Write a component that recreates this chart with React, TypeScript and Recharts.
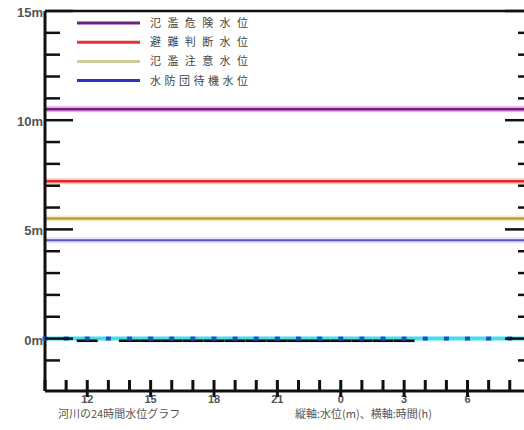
import { Bar, ComposedChart, Line, ReferenceLine, XAxis, YAxis } from 'recharts';

// clock hour at each x position (24 hours starting at 10:00)
const clockHours = [10, 11, 12, 13, 14, 15, 16, 17, 18, 19, 20, 21, 22, 23, 0, 1, 2, 3, 4, 5, 6, 7, 8, 9];
const waterLevel = [0, 0, 0, 0, 0, 0, 0, 0, 0, 0, 0, 0, 0, 0, 0, 0, 0, 0, 0, 0, 0, 0, 0, 0];
const observedLevel: (number | null)[] = [
  null, null, -0.1, null, -0.1, -0.1, -0.1, -0.1, -0.1, -0.1, -0.1, -0.1,
  -0.1, -0.1, -0.1, -0.1, -0.1, -0.1, null, null, null, null, null, null,
];

const levelNames = ['氾濫危険水位', '避難判断水位', '氾濫注意水位', '水防団待機水位'];
const levelValues = [10.5, 7.2, 5.5, 4.5];
const levelColors = ['#6e1f82', '#e32626', '#b9a23e', '#5a56c6'];
const haloColors = ['#f2a6e6', '#f9c4c4', '#f3ecc4', '#e2e0f6'];
const legendColors = ['#6e1f82', '#e83030', '#cfcd9c', '#2f2fc2'];

// last hour sits outside the visible window
const xTicks = clockHours.slice(0, 23).map((_, i) => i);
const yTicks = [-1, 0, 1, 2, 3, 4, 5, 6, 7, 8, 9, 10, 11, 12, 13, 14, 15];
const Y_MIN = -2.4;
const Y_MAX = 15;
const X_MAX = 23.1;

// chart layout
const CHART_W = 540;
const CHART_H = 430;
const TOP = 11;
const LEFT_AXIS_W = 45;
const RIGHT_AXIS_W = 7;
const X_AXIS_H = 39;
const PLOT_W = CHART_W - LEFT_AXIS_W - RIGHT_AXIS_W;
const AXIS_Y = CHART_H - X_AXIS_H;

const data = clockHours.map((hour, i) => ({
  t: i,
  hour,
  level: waterLevel[i],
  obs: observedLevel[i],
}));

const numFont = '"Liberation Sans", Arial, sans-serif';
const jpFont = '"Noto Sans CJK JP", sans-serif';

function HourTick(props: any) {
  const hour = clockHours[props.payload.value];
  if (hour % 3 !== 0) return <g />;
  return (
    <text x={props.x} y={Number(props.y) + 12} textAnchor="middle" fontSize={11} fontWeight="bold" fill="#555" fontFamily={numFont}>
      {hour}
    </text>
  );
}

function LeftTick({ x, y, payload }: any) {
  const v = payload.value;
  const major = v % 5 === 0;
  return (
    <g>
      <line x1={x} x2={x + (major ? 28 : 15)} y1={y} y2={y} stroke="#111" strokeWidth={2.5} />
      {major && v >= 0 && (
        <text x={x - 2} y={y + 6} textAnchor="end" fontSize={13} fontWeight="bold" fill="#555" fontFamily={numFont}>
          {`${v}m`}
        </text>
      )}
    </g>
  );
}

function RightTick({ x, y, payload }: any) {
  const major = payload.value % 5 === 0;
  return <line x1={x} x2={x - (major ? 28 : 15)} y1={y} y2={y} stroke="#111" strokeWidth={2.5} />;
}

function SquareDot({ cx, cy }: any) {
  if (cx == null || cy == null) return null;
  return <rect x={cx - 2.5} y={cy - 2} width={5} height={4} fill="#2350c0" />;
}

// hour tick marks of the time axis, laid over the chart
function HourMarks() {
  return (
    <svg width={524} height={430} style={{ position: 'absolute', left: 0, top: 0, pointerEvents: 'none' }}>
      {xTicks.map((t) => {
        const x = LEFT_AXIS_W + (t / X_MAX) * PLOT_W;
        const major = clockHours[t] % 3 === 0;
        return <rect key={t} x={x - 1.5} y={AXIS_Y - 11} width={3} height={major ? 17 : 11} fill="#111" />;
      })}
    </svg>
  );
}

function LevelLegend() {
  return (
    <svg width={300} height={100} style={{ position: 'absolute', left: 0, top: 0, pointerEvents: 'none' }}>
      {levelNames.map((name, i) => {
        const y = 23 + i * 19.2;
        return (
          <g key={name}>
            <line x1={77} x2={140} y1={y} y2={y} stroke={legendColors[i]} strokeWidth={3} />
            <text
              x={150}
              y={y + 4}
              fontSize={11}
              fill="#444"
              fontFamily={jpFont}
              textLength={98}
              lengthAdjust="spacing"
            >
              {name}
            </text>
          </g>
        );
      })}
    </svg>
  );
}

export default function App() {
  return (
    <div style={{ position: 'relative', width: 524, height: 430, overflow: 'hidden', background: '#fff' }}>
      <style>{'body{margin:0;overflow:hidden}'}</style>
      <ComposedChart width={CHART_W} height={CHART_H} data={data} margin={{ top: TOP, right: 0, bottom: 0, left: 0 }}>
        <XAxis
          dataKey="t"
          type="number"
          domain={[0, X_MAX]}
          ticks={xTicks}
          interval={0}
          height={X_AXIS_H}
          tickSize={0}
          tickMargin={0}
          tickLine={false}
          axisLine={{ stroke: '#111', strokeWidth: 3 }}
          tick={<HourTick />}
        />
        <YAxis
          type="number"
          domain={[Y_MIN, Y_MAX]}
          ticks={yTicks}
          interval={0}
          allowDataOverflow
          width={LEFT_AXIS_W}
          tickSize={0}
          tickMargin={0}
          tickLine={false}
          axisLine={{ stroke: '#111', strokeWidth: 3 }}
          tick={<LeftTick />}
        />
        <YAxis
          yAxisId="right"
          orientation="right"
          type="number"
          domain={[Y_MIN, Y_MAX]}
          ticks={yTicks}
          interval={0}
          allowDataOverflow
          width={RIGHT_AXIS_W}
          tickSize={0}
          tickMargin={0}
          tickLine={false}
          axisLine={false}
          tick={<RightTick />}
        />
        <ReferenceLine y={Y_MAX} stroke="#111" strokeWidth={2.5} />
        {levelValues.map((v, i) => (
          <ReferenceLine key={`halo-${i}`} y={v} stroke={haloColors[i]} strokeWidth={6} />
        ))}
        {levelValues.map((v, i) => (
          <ReferenceLine key={`lvl-${i}`} y={v} stroke={levelColors[i]} strokeWidth={i === 3 ? 2 : 2.5} />
        ))}
        <Line
          dataKey="level"
          stroke="#48dcef"
          strokeWidth={4}
          dot={<SquareDot />}
          activeDot={false}
          isAnimationActive={false}
        />
        <Bar
          dataKey={(d: any) => (d.obs == null ? null : [d.obs - 0.06, d.obs + 0.06])}
          fill="#111"
          barSize={21}
          zIndex={450}
          isAnimationActive={false}
        />
      </ComposedChart>
      <HourMarks />
      <LevelLegend />
      <div style={{ position: 'absolute', left: 58, top: 405, fontSize: 11, color: '#555', fontFamily: jpFont, whiteSpace: 'nowrap' }}>
        河川の24時間水位グラフ
      </div>
      <div style={{ position: 'absolute', left: 295, top: 405, fontSize: 11, color: '#555', fontFamily: jpFont, whiteSpace: 'nowrap' }}>
        縦軸:水位(m)、横軸:時間(h)
      </div>
    </div>
  );
}
